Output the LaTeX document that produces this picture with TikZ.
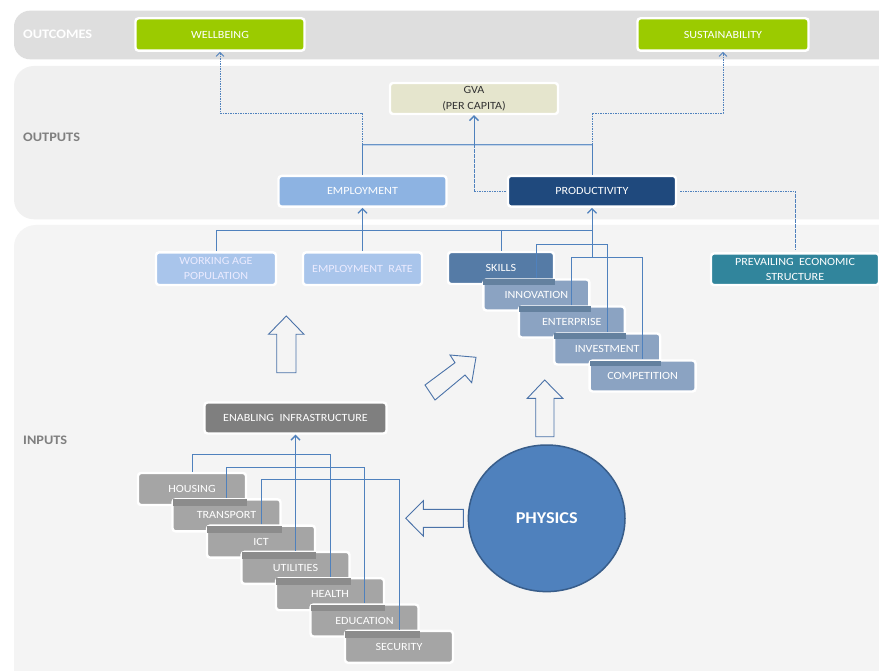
\documentclass[tikz,border=0pt]{standalone}
\usepackage{fontspec}
\setmainfont{Carlito}[FakeStretch=1.1]
\usetikzlibrary{shapes.geometric,arrows.meta,calc}
\definecolor{bandA}{HTML}{DEDEDE}
\definecolor{bandB}{HTML}{F0F0F0}
\definecolor{bandC}{HTML}{F4F4F4}
\definecolor{greenc}{HTML}{9BCB00}
\definecolor{gvac}{HTML}{E5E5CD}
\definecolor{empc}{HTML}{8DB3E2}
\definecolor{prodc}{HTML}{1F497D}
\definecolor{lightc}{HTML}{A9C5EB}
\definecolor{skillc}{HTML}{557BA6}
\definecolor{innc}{HTML}{8BA3C2}
\definecolor{innstrip}{HTML}{64819F}
\definecolor{pesc}{HTML}{31859C}
\definecolor{enabc}{HTML}{7F7F7F}
\definecolor{infc}{HTML}{A5A5A5}
\definecolor{infstrip}{HTML}{8C8C8C}
\definecolor{physc}{HTML}{4F81BD}
\definecolor{physb}{HTML}{385D8A}
\definecolor{connc}{HTML}{4F81BD}
\definecolor{blockc}{HTML}{4A72A8}
\definecolor{lblc}{HTML}{7F7F7F}
\begin{document}
\begin{tikzpicture}[x=1pt,y=-1pt,
  box/.style={draw=white, line width=2.4pt, rounded corners=3pt, text=white,
    font=\fontsize{11}{15}\selectfont, inner sep=0pt, align=center},
  bandlbl/.style={anchor=west, font=\bfseries\fontsize{13}{15}\selectfont, inner sep=0pt},
  conn/.style={draw=connc, line width=0.9pt},
  dconn/.style={draw=connc, line width=0.9pt, dash pattern=on 1.6pt off 0.9pt},
  solidtip/.style={-{Straight Barb[length=4.5pt,width=9pt,line width=1.3pt]}},
  thintip/.style={-{Straight Barb[length=4pt,width=8pt,line width=0.8pt]}},
  blockarrow/.style={draw=blockc, line width=0.9pt, line join=miter},
  infbox/.style={box, fill=infc, minimum width=108pt, minimum height=32pt},
  skbox/.style={box, fill=innc, minimum width=106pt, minimum height=31pt}
]
\useasboundingbox (0,0) rectangle (879,671);
\clip (0,0) rectangle (879,671);
\fill[white] (0,0) rectangle (879,671);
% bands
\fill[bandA, rounded corners=16pt] (14,10.7) rectangle (930,59.3);
\fill[bandB, rounded corners=20pt] (14,66) rectangle (930,219.3);
\fill[bandC, rounded corners=22pt] (14,225) rectangle (930,720);
\node[bandlbl, text=white] (loutc) at (23,34.5) {OUTCOMES};
\node[bandlbl, text=lblc] (loutp) at (23,137.7) {OUTPUTS};
\node[bandlbl, text=lblc] (linp) at (23,440) {INPUTS};

% outcomes
\node[box, fill=greenc, minimum width=169pt, minimum height=32.4pt] (wellbeing) at (220,34.5) {WELLBEING};
\node[box, fill=greenc, minimum width=171pt, minimum height=32.4pt] (sustain) at (723,34.5) {SUSTAINABILITY};
% outputs
\node[box, fill=gvac, text=black!80, minimum width=168pt, minimum height=31pt] (gva) at (474,98.5) {GVA\\[1pt](PER CAPITA)};
\node[box, fill=empc, minimum width=168pt, minimum height=30.7pt] (employment) at (362.5,191.3) {EMPLOYMENT};
\node[box, fill=prodc, minimum width=168pt, minimum height=30.7pt] (productivity) at (592,191.3) {PRODUCTIVITY};
% inputs row
\node[box, fill=lightc, text=white!92!blue, minimum width=120pt, minimum height=32.7pt] (wap) at (216,268.7) {WORKING AGE\\POPULATION};
\node[box, fill=lightc, text=white!92!blue, minimum width=119pt, minimum height=32.7pt] (emprate) at (362.5,268.7) {EMPLOYMENT\ \ RATE};
\node[box, fill=pesc, minimum width=168pt, minimum height=31.7pt] (pes) at (795,269.2) {PREVAILING\ \ ECONOMIC\\STRUCTURE};

% skills stack
\node[box, fill=skillc, minimum width=106pt, minimum height=32pt] (skills) at (501,268) {SKILLS};
\node[skbox] (innovation) at (536.4,295) {INNOVATION};
\fill[innstrip] ($(innovation.north west)+(1.2,1.2)$) rectangle (skills.south east);
\node[skbox] (enterprise) at (571.8,322) {ENTERPRISE};
\fill[innstrip] ($(enterprise.north west)+(1.2,1.2)$) rectangle (innovation.south east);
\node[skbox] (investment) at (607.2,349) {INVESTMENT};
\fill[innstrip] ($(investment.north west)+(1.2,1.2)$) rectangle (enterprise.south east);
\node[skbox] (competition) at (642.6,376) {COMPETITION};
\fill[innstrip] ($(competition.north west)+(1.2,1.2)$) rectangle (investment.south east);

% enabling infrastructure
\node[box, fill=enabc, minimum width=182pt, minimum height=31pt] (enabling) at (295.5,418) {ENABLING\ \ INFRASTRUCTURE};
\node[infbox] (housing) at (192,489) {HOUSING};
\node[infbox] (transport) at (226.5,515.3) {TRANSPORT};
\fill[infstrip] ($(transport.north west)+(1.2,1.2)$) rectangle (housing.south east);
\node[infbox] (ict) at (261,541.6) {ICT};
\fill[infstrip] ($(ict.north west)+(1.2,1.2)$) rectangle (transport.south east);
\node[infbox] (utilities) at (295.5,567.9) {UTILITIES};
\fill[infstrip] ($(utilities.north west)+(1.2,1.2)$) rectangle (ict.south east);
\node[infbox] (health) at (330,594.2) {HEALTH};
\fill[infstrip] ($(health.north west)+(1.2,1.2)$) rectangle (utilities.south east);
\node[infbox] (education) at (364.5,620.5) {EDUCATION};
\fill[infstrip] ($(education.north west)+(1.2,1.2)$) rectangle (health.south east);
\node[infbox] (security) at (399,646.8) {SECURITY};
\fill[infstrip] ($(security.north west)+(1.2,1.2)$) rectangle (education.south east);

% physics
\node[ellipse, fill=physc, draw=physb, line width=1.5pt, minimum width=156.6pt, minimum height=146.6pt,
  inner sep=0pt, text=white, font=\bfseries\fontsize{16.5}{18}\selectfont] (physics) at (546.7,518.3) {PHYSICS};

% block arrows
\draw[blockarrow] (286.3,316) -- (304,334.3) -- (296,334.3) -- (296,372.7) -- (276.7,372.7) -- (276.7,334.3) -- (268.5,334.3) -- cycle;
\draw[blockarrow] (544.7,380) -- (562.7,398.3) -- (554,398.3) -- (554,436.7) -- (535.7,436.7) -- (535.7,398.3) -- (527.3,398.3) -- cycle;
\draw[blockarrow] (405.7,518.3) -- (423.3,500.7) -- (423.3,509.3) -- (463.3,509.3) -- (463.3,527.3) -- (423.3,527.3) -- (423.3,536) -- cycle;
\draw[blockarrow] (425,385) -- (455,362.7) -- (450,355) -- (476,357.3) -- (471.7,382.7) -- (465,375) -- (435,400) -- cycle;

% coordinates
\coordinate (ej) at (362.5,145);
\coordinate (pj) at (592,145);
\coordinate (gj) at (474,145);
\coordinate (gk) at (474,191.3);
\coordinate (h1) at (592,230);
\coordinate (t0) at (592,257.7);

% outputs connectors
\draw[draw=connc!85, line width=2.4pt] (ej) -- (pj);
\draw[draw=white!65!connc, line width=0.8pt] (ej) -- (pj);
\draw[conn] (employment.north) -- (ej);
\draw[conn] (productivity.north) -- (pj);
\draw[dconn, thintip] (ej) -- (ej |- 0,113.3) -| (wellbeing.south);
\draw[dconn, thintip] (pj) -- (pj |- 0,113.3) -| (sustain.south);
\draw[dconn] ([xshift=-1pt]productivity.west) -- (gk) -- (gj);
\draw[conn, solidtip] (gj) -- (gva.south);
\draw[dconn, shorten >=3pt] ([xshift=3pt]productivity.east) -| (pes.north);

% inputs to outputs
\draw[conn] (wap.north) |- (h1);
\draw[conn, solidtip] (emprate.north) -- (employment.south);
\draw[conn] (skills.north) -- (skills.north |- h1);
\draw[conn, solidtip] (t0) -- (productivity.south);
\draw[conn] (innovation.north) -- (innovation.north |- 0,244.3) -| (investment.north);
\draw[conn] (enterprise.north) -- (enterprise.north |- 0,257.7) -| (competition.north);

% infrastructure connectors
\draw[conn] (housing.north) -- (housing.north |- 0,454) -| (health.north);
\draw[conn] (transport.north) -- (transport.north |- 0,467.7) -| (education.north);
\draw[conn] (ict.north) -- (ict.north |- 0,479) -| (security.north);
\draw[conn, solidtip] (utilities.north) -- (enabling.south);
\end{tikzpicture}
\end{document}
